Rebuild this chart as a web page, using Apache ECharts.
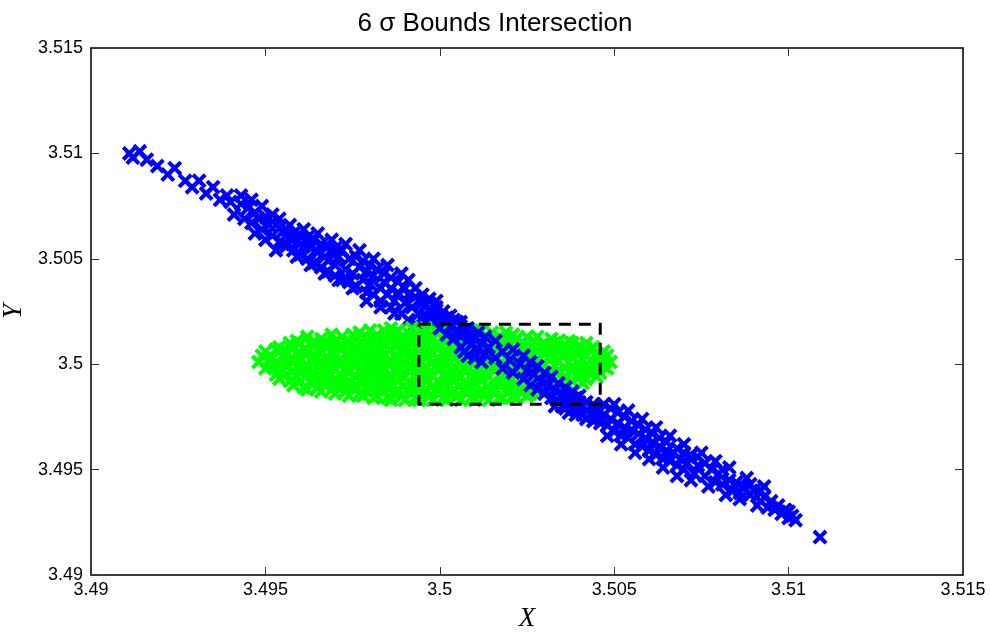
<!DOCTYPE html>
<html><head><meta charset="utf-8">
<script src="https://cdn.jsdelivr.net/npm/echarts@6/dist/echarts.min.js"></script>
<style>html,body{margin:0;padding:0;background:#fff}#c{width:990px;height:632px}</style>
</head><body><div id="c"></div><script>
// Blue samples (outside the dashed box)
const blueBand = [
[3.4911,3.5100],[3.4912,3.5098],[3.4914,3.5101],[3.4916,3.5097],[3.4919,3.5094],[3.4922,3.5090],[3.4924,3.5093],[3.4927,3.5087],[3.4929,3.5084],[3.4931,3.5087],[3.4933,3.5081],[3.4935,3.5084],[3.4937,3.5078],[3.4939,3.5080],
[3.4940,3.5077],[3.4941,3.5071],[3.4943,3.5076],[3.4944,3.5069],[3.4945,3.5074],[3.4946,3.5067],[3.4947,3.5072],[3.4948,3.5069],[3.4949,3.5064],[3.4950,3.5070],[3.4951,3.5066],[3.4952,3.5061],[3.4953,3.5066],[3.4954,3.5058],[3.4955,3.5063],[3.4955,3.5057],
[3.4943,3.5080],[3.4946,3.5078],[3.4949,3.5075],[3.4952,3.5071],[3.4954,3.5069],[3.4947,3.5062],[3.4950,3.5059],[3.4953,3.5054],
[3.4956,3.5056],[3.4956,3.5064],[3.4957,3.5060],[3.4958,3.5054],[3.4958,3.5062],[3.4959,3.5058],[3.4960,3.5052],[3.4960,3.5061],[3.4961,3.5056],[3.4962,3.5050],[3.4962,3.5060],[3.4963,3.5055],[3.4964,3.5048],[3.4964,3.5059],[3.4965,3.5053],[3.4966,3.5046],[3.4966,3.5057],[3.4967,3.5051],[3.4968,3.5044],[3.4968,3.5056],[3.4968,3.5049],[3.4969,3.5053],[3.4970,3.5042],[3.4970,3.5047],[3.4970,3.5055],[3.4971,3.5051],[3.4972,3.5040],[3.4972,3.5054],[3.4973,3.5045],[3.4974,3.5050],[3.4974,3.5039],[3.4975,3.5043],[3.4976,3.5051],[3.4976,3.5037],[3.4977,3.5046],[3.4978,3.5040],[3.4978,3.5049],[3.4979,3.5034],[3.4979,3.5044],[3.4980,3.5047],[3.4980,3.5038],[3.4981,3.5042],[3.4981,3.5033],[3.4982,3.5045],[3.4983,3.5036],[3.4983,3.5030],[3.4984,3.5043],[3.4984,3.5039],[3.4985,3.5033],[3.4986,3.5027],[3.4986,3.5041],[3.4986,3.5036],[3.4987,3.5030],[3.4988,3.5039],[3.4988,3.5034],[3.4989,3.5024],[3.4990,3.5036],[3.4990,3.5029],[3.4991,3.5021],[3.4991,3.5033],[3.4992,3.5027],[3.4993,3.5032],[3.4993,3.5019],[3.4994,3.5030],[3.4994,3.5024],[3.4995,3.5021],[3.4995,3.5029],[3.4996,3.5028],[3.4996,3.5023],[3.4997,3.5026],[3.4997,3.5020],[3.4998,3.5024],[3.4999,3.5027],[3.4999,3.5021],[3.5000,3.5023],[3.5001,3.5025],[3.5001,3.5020],[3.5002,3.5022],[3.5003,3.5023],[3.5003,3.5020],[3.5004,3.5021],[3.5005,3.5020],[3.5006,3.5020],
[3.4957,3.5066],[3.4959,3.5051],[3.4961,3.5064],[3.4963,3.5047],[3.4965,3.5062],[3.4967,3.5043],[3.4969,3.5059],[3.4971,3.5040],[3.4973,3.5057],[3.4975,3.5036],[3.4977,3.5054],[3.4979,3.5030],[3.4981,3.5050],[3.4983,3.5027],[3.4985,3.5047],[3.4987,3.5024],[3.4989,3.5043],[3.4991,3.5040],[3.4993,3.5036],[3.4995,3.5033],[3.4997,3.5031],[3.4999,3.5030],
[3.5033,3.4980],[3.5035,3.4980],[3.5036,3.4979],[3.5037,3.4977],[3.5038,3.4979],[3.5039,3.4976],[3.5040,3.4978],[3.5041,3.4976],[3.5041,3.4980],[3.5042,3.4974],[3.5042,3.4978],[3.5043,3.4976],[3.5044,3.4973],[3.5044,3.4979],[3.5045,3.4975],[3.5046,3.4972],[3.5046,3.4978],
[3.5047,3.4976],[3.5047,3.4981],[3.5048,3.4971],[3.5049,3.4974],[3.5049,3.4979],[3.5050,3.4968],[3.5051,3.4972],[3.5051,3.4977],[3.5052,3.4966],[3.5053,3.4970],[3.5053,3.4975],[3.5054,3.4965],[3.5055,3.4969],[3.5055,3.4973],[3.5056,3.4962],[3.5057,3.4967],[3.5057,3.4971],[3.5058,3.4961],[3.5059,3.4965],[3.5059,3.4969],[3.5060,3.4959],[3.5061,3.4963],[3.5061,3.4967],[3.5062,3.4957],[3.5063,3.4961],[3.5063,3.4965],[3.5064,3.4955],[3.5065,3.4959],[3.5065,3.4963],[3.5066,3.4954],[3.5067,3.4958],[3.5068,3.4952],[3.5068,3.4960],[3.5069,3.4955],[3.5070,3.4950],[3.5070,3.4958],[3.5071,3.4953],[3.5072,3.4957],[3.5073,3.4948],[3.5074,3.4952],[3.5074,3.4956],[3.5076,3.4947],[3.5076,3.4953],[3.5078,3.4950],[3.5079,3.4944],
[3.5048,3.4966],[3.5050,3.4981],[3.5052,3.4962],[3.5054,3.4978],[3.5056,3.4958],[3.5058,3.4974],[3.5060,3.4955],[3.5062,3.4970],[3.5064,3.4951],[3.5066,3.4966],[3.5068,3.4947],[3.5070,3.4962],[3.5072,3.4945],[3.5075,3.4958],[3.5077,3.4942],[3.5079,3.4954],[3.5082,3.4938],[3.5083,3.4951],[3.5086,3.4936],[3.5088,3.4946],[3.5091,3.4933],[3.5093,3.4942],
[3.5080,3.4948],[3.5081,3.4943],[3.5081,3.4950],[3.5083,3.4945],[3.5084,3.4940],[3.5085,3.4944],[3.5086,3.4939],[3.5087,3.4942],[3.5089,3.4938],[3.5089,3.4943],[3.5090,3.4940],[3.5092,3.4935],[3.5092,3.4940],[3.5093,3.4937],[3.5094,3.4932],[3.5095,3.4935],[3.5096,3.4931],[3.5097,3.4933],[3.5098,3.4929],[3.5099,3.4931],[3.5100,3.4927],[3.5100,3.4930],[3.5101,3.4928],[3.5102,3.4926],[3.5109,3.4918]
];
// Green samples
const greenCloud = [
[3.4948,3.5001],[3.4949,3.5004],
[3.4950,3.4998],[3.4951,3.5002],[3.4950,3.5006],
[3.4953,3.4995],[3.4952,3.4999],[3.4952,3.5003],[3.4953,3.5007],
[3.4954,3.4993],[3.4955,3.4997],[3.4954,3.5000],[3.4955,3.5004],[3.4954,3.5008],
[3.4957,3.4992],[3.4956,3.4995],[3.4956,3.4999],[3.4957,3.5002],[3.4956,3.5006],[3.4957,3.5010],
[3.4958,3.4990],[3.4959,3.4994],[3.4958,3.4997],[3.4958,3.5001],[3.4959,3.5005],[3.4958,3.5008],[3.4959,3.5011],
[3.4961,3.4989],[3.4960,3.4992],[3.4960,3.4996],[3.4961,3.4999],[3.4960,3.5003],[3.4961,3.5007],[3.4960,3.5010],
[3.4962,3.4988],[3.4963,3.4991],[3.4962,3.4995],[3.4962,3.4998],[3.4963,3.5002],[3.4962,3.5005],[3.4963,3.5009],[3.4962,3.5013],
[3.4965,3.4989],[3.4964,3.4993],[3.4964,3.4996],[3.4965,3.5000],[3.4964,3.5004],[3.4965,3.5007],[3.4964,3.5011],
[3.4966,3.4987],[3.4967,3.4990],[3.4966,3.4994],[3.4967,3.4998],[3.4966,3.5001],[3.4966,3.5005],[3.4967,3.5009],[3.4966,3.5012],
[3.4969,3.4988],[3.4968,3.4992],[3.4968,3.4995],[3.4969,3.4999],[3.4968,3.5003],[3.4969,3.5006],[3.4968,3.5010],[3.4969,3.5014],
[3.4970,3.4986],[3.4971,3.4989],[3.4970,3.4993],[3.4970,3.4997],[3.4971,3.5000],[3.4970,3.5004],[3.4971,3.5008],[3.4970,3.5011],
[3.4973,3.4987],[3.4972,3.4991],[3.4972,3.4994],[3.4973,3.4998],[3.4972,3.5002],[3.4973,3.5005],[3.4972,3.5009],[3.4972,3.5013],
[3.4974,3.4985],[3.4975,3.4989],[3.4974,3.4992],[3.4974,3.4996],[3.4975,3.5000],[3.4974,3.5003],[3.4975,3.5007],[3.4974,3.5011],[3.4975,3.5014],
[3.4977,3.4986],[3.4976,3.4990],[3.4976,3.4994],[3.4977,3.4997],[3.4976,3.5001],[3.4977,3.5005],[3.4976,3.5008],[3.4976,3.5012],[3.4977,3.5015],
[3.4978,3.4985],[3.4979,3.4988],[3.4978,3.4992],[3.4978,3.4995],[3.4979,3.4999],[3.4978,3.5003],[3.4979,3.5006],[3.4978,3.5010],[3.4979,3.5013],
[3.4981,3.4984],[3.4980,3.4987],[3.4980,3.4991],[3.4981,3.4994],[3.4980,3.4998],[3.4980,3.5002],[3.4981,3.5005],[3.4980,3.5009],[3.4981,3.5012],[3.4980,3.5016],
[3.4982,3.4985],[3.4983,3.4989],[3.4982,3.4993],[3.4982,3.4996],[3.4983,3.5000],[3.4982,3.5004],[3.4983,3.5007],[3.4982,3.5011],[3.4982,3.5014],
[3.4985,3.4984],[3.4984,3.4987],[3.4984,3.4990],[3.4985,3.4994],[3.4984,3.4998],[3.4985,3.5001],[3.4984,3.5005],[3.4984,3.5009],[3.4985,3.5012],[3.4984,3.5016],
[3.4986,3.4983],[3.4987,3.4986],[3.4986,3.4990],[3.4986,3.4993],[3.4987,3.4997],[3.4986,3.5000],[3.4987,3.5004],[3.4986,3.5007],[3.4986,3.5011],[3.4987,3.5014],[3.4986,3.5017],
[3.4989,3.4985],[3.4988,3.4988],[3.4988,3.4992],[3.4989,3.4995],[3.4988,3.4999],[3.4988,3.5002],[3.4989,3.5006],[3.4988,3.5009],[3.4989,3.5013],[3.4988,3.5016],
[3.4990,3.4983],[3.4991,3.4987],[3.4990,3.4990],[3.4990,3.4994],[3.4991,3.4997],[3.4990,3.5001],[3.4991,3.5004],[3.4990,3.5008],[3.4990,3.5011],[3.4991,3.5015],
[3.4993,3.4984],[3.4992,3.4988],[3.4992,3.4991],[3.4993,3.4995],[3.4992,3.4999],[3.4993,3.5002],[3.4992,3.5006],[3.4992,3.5010],[3.4993,3.5013],[3.4992,3.5017],
[3.4994,3.4983],[3.4995,3.4986],[3.4994,3.4990],[3.4994,3.4993],[3.4995,3.4997],[3.4994,3.5000],[3.4995,3.5004],[3.4994,3.5008],[3.4994,3.5011],[3.4995,3.5015],
[3.4997,3.4985],[3.4996,3.4988],[3.4996,3.4992],[3.4997,3.4996],[3.4996,3.4999],[3.4996,3.5003],[3.4997,3.5006],[3.4996,3.5010],[3.4997,3.5013],[3.4996,3.5017],
[3.4998,3.4983],[3.4999,3.4987],[3.4998,3.4990],[3.4998,3.4994],[3.4999,3.4998],[3.4998,3.5001],[3.4998,3.5005],[3.4999,3.5008],[3.4998,3.5012],[3.4999,3.5015],
[3.5001,3.4984],[3.5000,3.4988],[3.5000,3.4991],[3.5001,3.4995],[3.5000,3.4999],[3.5000,3.5002],[3.5001,3.5006],[3.5000,3.5009],[3.5001,3.5013],[3.5000,3.5016],
[3.5002,3.4983],[3.5003,3.4986],[3.5002,3.4990],[3.5002,3.4993],[3.5003,3.4997],[3.5002,3.5001],[3.5002,3.5004],[3.5003,3.5008],[3.5002,3.5011],[3.5003,3.5015],
[3.5005,3.4985],[3.5004,3.4988],[3.5004,3.4992],[3.5005,3.4995],[3.5004,3.4999],[3.5004,3.5003],[3.5005,3.5006],[3.5004,3.5010],[3.5005,3.5013],[3.5004,3.5016],
[3.5006,3.4983],[3.5007,3.4987],[3.5006,3.4990],[3.5006,3.4994],[3.5007,3.4997],[3.5006,3.5001],[3.5007,3.5005],[3.5006,3.5008],[3.5006,3.5012],[3.5007,3.5015],
[3.5009,3.4984],[3.5008,3.4988],[3.5008,3.4991],[3.5009,3.4995],[3.5008,3.4999],[3.5008,3.5002],[3.5009,3.5006],[3.5008,3.5010],[3.5009,3.5013],[3.5008,3.5016],
[3.5010,3.4983],[3.5011,3.4986],[3.5010,3.4990],[3.5010,3.4993],[3.5011,3.4997],[3.5010,3.5001],[3.5010,3.5004],[3.5011,3.5008],[3.5010,3.5011],[3.5010,3.5015],
[3.5013,3.4985],[3.5012,3.4988],[3.5012,3.4992],[3.5013,3.4996],[3.5012,3.4999],[3.5012,3.5003],[3.5013,3.5006],[3.5012,3.5010],[3.5013,3.5013],[3.5012,3.5016],
[3.5014,3.4983],[3.5015,3.4987],[3.5014,3.4990],[3.5014,3.4994],[3.5015,3.4998],[3.5014,3.5001],[3.5015,3.5005],[3.5014,3.5008],[3.5014,3.5012],[3.5015,3.5015],
[3.5017,3.4984],[3.5016,3.4988],[3.5016,3.4991],[3.5017,3.4995],[3.5016,3.4999],[3.5016,3.5002],[3.5017,3.5006],[3.5016,3.5009],[3.5017,3.5013],
[3.5018,3.4984],[3.5019,3.4987],[3.5018,3.4991],[3.5018,3.4994],[3.5019,3.4998],[3.5018,3.5001],[3.5018,3.5005],[3.5019,3.5008],[3.5018,3.5012],[3.5019,3.5015],
[3.5021,3.4985],[3.5020,3.4989],[3.5020,3.4992],[3.5021,3.4996],[3.5020,3.5000],[3.5020,3.5003],[3.5021,3.5007],[3.5020,3.5010],[3.5021,3.5014],
[3.5022,3.4984],[3.5023,3.4987],[3.5022,3.4991],[3.5022,3.4995],[3.5023,3.4998],[3.5022,3.5002],[3.5022,3.5005],[3.5023,3.5009],[3.5022,3.5012],
[3.5025,3.4985],[3.5024,3.4989],[3.5024,3.4992],[3.5025,3.4996],[3.5024,3.5000],[3.5024,3.5003],[3.5025,3.5007],[3.5024,3.5010],[3.5025,3.5013],
[3.5026,3.4986],[3.5027,3.4990],[3.5026,3.4993],[3.5026,3.4997],[3.5027,3.5001],[3.5026,3.5004],[3.5026,3.5008],[3.5027,3.5011],
[3.5029,3.4987],[3.5028,3.4991],[3.5028,3.4995],[3.5029,3.4998],[3.5028,3.5002],[3.5028,3.5006],[3.5029,3.5009],[3.5028,3.5013],
[3.5030,3.4988],[3.5031,3.4992],[3.5030,3.4996],[3.5030,3.5000],[3.5031,3.5003],[3.5030,3.5007],[3.5030,3.5010],
[3.5033,3.4989],[3.5032,3.4992],[3.5032,3.4996],[3.5033,3.4999],[3.5032,3.5003],[3.5032,3.5006],[3.5033,3.5010],[3.5032,3.5012],
[3.5034,3.4989],[3.5035,3.4993],[3.5034,3.4997],[3.5034,3.5001],[3.5035,3.5004],[3.5034,3.5008],[3.5034,3.5011],
[3.5037,3.4990],[3.5036,3.4994],[3.5036,3.4998],[3.5037,3.5001],[3.5036,3.5005],[3.5036,3.5008],[3.5037,3.5011],
[3.5038,3.4992],[3.5039,3.4995],[3.5038,3.4999],[3.5038,3.5003],[3.5039,3.5006],[3.5038,3.5010],
[3.5041,3.4991],[3.5040,3.4994],[3.5040,3.4998],[3.5041,3.5002],[3.5040,3.5005],[3.5040,3.5009],
[3.5042,3.4993],[3.5043,3.4996],[3.5042,3.5000],[3.5042,3.5004],[3.5043,3.5007],[3.5042,3.5010],
[3.5045,3.4994],[3.5044,3.4998],[3.5044,3.5001],[3.5045,3.5005],[3.5044,3.5008],
[3.5046,3.4996],[3.5047,3.4999],[3.5046,3.5003],[3.5047,3.5006],
[3.5048,3.4998],[3.5049,3.5001],[3.5048,3.5004]
];
// Blue samples that fall inside the dashed intersection box
const blueInBox = [
[3.5000,3.5017],[3.5002,3.5014],[3.5003,3.5018],[3.5004,3.5012],[3.5005,3.5016],
[3.5006,3.5008],[3.5006,3.5018],[3.5006,3.5013],[3.5007,3.5006],[3.5007,3.5015],[3.5008,3.5011],[3.5008,3.5004],[3.5008,3.5017],[3.5009,3.5009],[3.5009,3.5014],[3.5010,3.5003],[3.5010,3.5012],[3.5011,3.5007],[3.5011,3.5015],[3.5012,3.5010],[3.5012,3.5001],[3.5013,3.5005],[3.5013,3.5013],[3.5014,3.5008],
[3.5016,3.5003],[3.5016,3.5011],[3.5018,3.4998],[3.5018,3.5006],[3.5020,3.5002],[3.5021,3.4996],[3.5021,3.5007],[3.5023,3.5000],
[3.5024,3.4993],[3.5024,3.5004],[3.5025,3.4997],[3.5026,3.4990],[3.5026,3.5001],[3.5027,3.4995],[3.5028,3.4988],[3.5028,3.4999],[3.5029,3.4992],[3.5030,3.4986],[3.5030,3.4996],[3.5031,3.4990],[3.5032,3.4984],[3.5032,3.4994],[3.5033,3.4988],[3.5034,3.4982],[3.5034,3.4991],[3.5035,3.4986],[3.5036,3.4983],[3.5036,3.4989],[3.5037,3.4985],[3.5038,3.4982],[3.5038,3.4987],[3.5039,3.4984],[3.5040,3.4982],[3.5040,3.4985],[3.5042,3.4982],[3.5044,3.4981]
];
const boxX = [3.4994, 3.5046];
const boxY = [3.4981, 3.5019];
const axisMin = 3.49, axisMax = 3.515, axisStep = 0.005;

const xMark = 'path://M0,1.9L1.9,0L5,3.1L8.1,0L10,1.9L6.9,5L10,8.1L8.1,10L5,6.9L1.9,10L0,8.1L3.1,5Z';
const boxPath = [[boxX[0],boxY[1]],[boxX[1],boxY[1]],[boxX[1],boxY[0]],[boxX[0],boxY[0]],[boxX[0],boxY[1]]];
const fmt = v => String(+v.toFixed(3));
const lab = {fontFamily:'Liberation Sans', fontSize:18, color:'#000'};
function ax(pos, showLabel, extra){
  return Object.assign({
    type:'value', min:axisMin, max:axisMax, interval:axisStep, position:pos,
    axisLine:{show:true, onZero:false, lineStyle:{color:'#000', width:1.5}},
    axisTick:{show:true, inside:true, length:8, lineStyle:{color:'#333', width:1}},
    axisLabel:Object.assign({show:showLabel, formatter:fmt, showMinLabel:true, showMaxLabel:true}, lab),
    splitLine:{show:false}
  }, extra||{});
}
const chart = echarts.init(document.getElementById('c'), null, {renderer:'canvas'});
chart.setOption({
  animation:false,
  backgroundColor:'#fff',
  title:{text:'6 σ Bounds Intersection', left:'center', top:6,
    textStyle:{fontFamily:'Liberation Sans', fontSize:26, fontWeight:'normal', color:'#000'}},
  grid:{left:91, right:27, top:48, bottom:57, containLabel:false, outerBoundsMode:'none'},
  xAxis:[
    ax('bottom', true, {name:'X', nameLocation:'middle', nameGap:30,
      nameTextStyle:{fontFamily:'Liberation Serif', fontStyle:'italic', fontSize:27, color:'#000'},
      axisLabel:Object.assign({show:true, formatter:fmt, margin:6, showMinLabel:true, showMaxLabel:true}, lab)}),
    ax('top', false)
  ],
  yAxis:[
    ax('left', true, {name:'Y', nameLocation:'middle', nameGap:57,
      nameTextStyle:{fontFamily:'Liberation Serif', fontStyle:'italic', fontSize:27, color:'#000'},
      axisLabel:Object.assign({show:true, formatter:fmt, margin:8, showMinLabel:true, showMaxLabel:true}, lab)}),
    ax('right', false)
  ],
  series:[
    {type:'scatter', data:blueBand, symbol:xMark, symbolSize:15, itemStyle:{color:'#0000ff', opacity:1}, xAxisIndex:0, yAxisIndex:0},
    {type:'scatter', data:greenCloud, symbol:xMark, symbolSize:15, itemStyle:{color:'#00ff00', opacity:1}, xAxisIndex:0, yAxisIndex:0},
    {type:'scatter', data:blueInBox, symbol:xMark, symbolSize:15, itemStyle:{color:'#0000ff', opacity:1}, xAxisIndex:0, yAxisIndex:0},
    {type:'line', data:boxPath, showSymbol:false, symbol:'none', z:5, xAxisIndex:0, yAxisIndex:0,
      lineStyle:{color:'#000', width:3, type:[12,8], cap:'butt', join:'miter'}}
  ]
});
</script></body></html>
